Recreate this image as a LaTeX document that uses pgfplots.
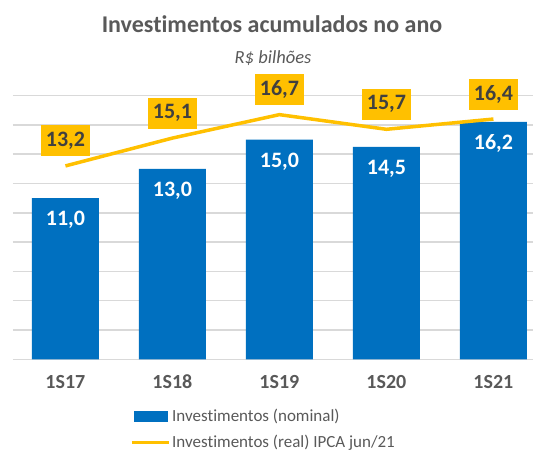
\documentclass[border=0pt]{standalone}
\usepackage{fontspec}
\setmainfont[Ligatures=NoCommon]{Carlito}
\usepackage{pgfplots}
\pgfplotsset{compat=1.18}
\definecolor{barblue}{HTML}{0070C0}
\definecolor{lineyel}{HTML}{FFC000}
\definecolor{txtgray}{HTML}{595959}
\definecolor{darktxt}{HTML}{404040}
\definecolor{gridgray}{HTML}{D9D9D9}

\begin{document}
\begin{tikzpicture}
  \path[use as bounding box] (0,0) rectangle (534pt,452pt);
  \node[anchor=base, text=txtgray, font=\fontsize{24}{28}\selectfont\bfseries]
    at (272pt,419.7pt) {Investimentos acumulados no ano};
  \node[anchor=base, text=txtgray, font=\fontsize{18.5}{22}\selectfont\itshape]
    at (273pt,388.7pt) {R\$ bilhões};
  \begin{axis}[
      at={(13pt,92.7pt)}, anchor=south west, scale only axis,
      width=520pt, height=263.7pt,
      xmin=-0.49, xmax=4.37, ymin=0, ymax=18,
      ytick={0,2,...,18}, yticklabel=\empty,
      xtick={0,1,2,3,4}, xticklabels={1S17,1S18,1S19,1S20,1S21},
      xticklabel style={anchor=base, yshift=-28.7pt, text=txtgray,
                        font=\fontsize{20}{24}\selectfont\bfseries},
      axis line style={draw=none}, tick style={draw=none},
      ymajorgrids, grid style={gridgray, line width=1.5pt},
      clip=false,
      /pgf/number format/.cd, use comma, fixed, fixed zerofill, precision=1,
        assume math mode=true,
      /pgfplots/.cd,
      legend style={at={(axis description cs:0.225,-0.188)}, anchor=north west,
                    draw=none, fill=none, inner sep=0pt, row sep=12.5pt,
                    nodes={inner xsep=1.5pt, inner ysep=0pt},
                    font=\fontsize{17}{20}\selectfont, text=txtgray},
      legend cell align=left,
    ]
    \addplot[ybar, bar width=67pt, fill=barblue, draw=none,
             nodes near coords,
             every node near coord/.style={anchor=center, yshift=-22pt, text=white,
                       font=\fontsize{22}{26}\selectfont\bfseries},
             legend image code/.code={\fill[barblue] (0pt,-5.5pt) rectangle (34pt,5.5pt);}]
      coordinates {(0,11.0) (1,13.0) (2,15.0) (3,14.5) (4,16.2)};
    \addlegendentry{Investimentos (nominal)}
    \addplot[lineyel, line width=3.5pt, mark=none,
             nodes near coords,
             every node near coord/.style={anchor=center, yshift=25pt, fill=lineyel,
                       text=darktxt, inner xsep=5pt, minimum height=31pt,
                       font=\fontsize{22}{26}\selectfont\bfseries},
             legend image code/.code={\draw[lineyel, line width=3.5pt] (-2pt,0) -- (35pt,0);}]
      coordinates {(0,13.2) (1,15.1) (2,16.7) (3,15.7) (4,16.4)};
    \addlegendentry{Investimentos (real) IPCA jun/21}
  \end{axis}
\end{tikzpicture}
\end{document}
